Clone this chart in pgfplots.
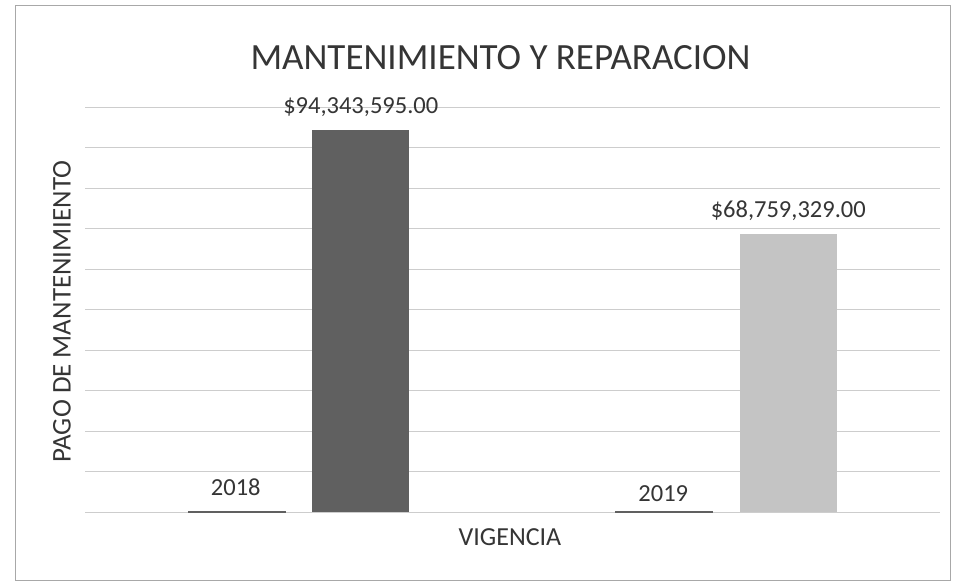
\documentclass[border=0pt]{standalone}
\usepackage{fontspec}
\setmainfont{Carlito}
\usepackage{pgfplots}
\pgfplotsset{compat=1.18}
\definecolor{bardark}{HTML}{606060}
\definecolor{barlight}{HTML}{C4C4C4}
\definecolor{gridc}{HTML}{CDCDCD}
\definecolor{framec}{HTML}{A8A8A8}
\definecolor{txt}{HTML}{353535}
\begin{document}
\begin{tikzpicture}
\path[use as bounding box] (0pt,0pt) rectangle (957pt,585pt);
\fill[white] (0pt,0pt) rectangle (957pt,585pt);
\draw[framec, line width=0.9pt] (15pt,5pt) rectangle (950pt,580pt);
\begin{axis}[
  at={(85pt,73pt)}, anchor=south west,
  scale only axis, width=855pt, height=405pt,
  xmin=0.5, xmax=2.5, ymin=0, ymax=100000000,
  ytick={0,10000000,20000000,30000000,40000000,50000000,60000000,70000000,80000000,90000000,100000000},
  scaled y ticks=false,
  xtick=\empty, yticklabels={},
  ymajorgrids, grid style={gridc, line width=0.9pt},
  axis line style={draw=none}, tick style={draw=none},
  clip=false,
  title={MANTENIMIENTO Y REPARACION},
  title style={at={(axis description cs:0.486,1)}, anchor=base, yshift=31pt,
    font=\fontsize{37}{41}\selectfont, text=txt},
  xlabel={VIGENCIA},
  xlabel style={at={(axis description cs:0.497,0)}, anchor=center, yshift=-25pt,
    font=\fontsize{26}{30}\selectfont, text=txt},
  ylabel={PAGO DE MANTENIMIENTO},
  ylabel style={at={(axis description cs:0,0.495)}, anchor=center, yshift=23pt,
    font=\fontsize{27}{31}\selectfont, text=txt},
  nodes near coords style={anchor=base, yshift=16pt, inner sep=0pt,
    font=\fontsize{24.5}{28}\selectfont, text=txt},
]
% Serie VIGENCIA (año)
\addplot[ybar, bar width=97pt, bar shift=-62pt, fill=bardark, draw=bardark, line width=1.2pt,
  nodes near coords={2018}, every node near coord/.append style={xshift=-63pt}]
  coordinates {(1,2018)};
\addplot[ybar, bar width=97pt, bar shift=-62pt, fill=bardark, draw=bardark, line width=1.2pt,
  nodes near coords={2019}, every node near coord/.append style={xshift=-63pt, yshift=-6pt}]
  coordinates {(2,2019)};
% Serie PAGO DE MANTENIMIENTO
\addplot[ybar, bar width=97pt, bar shift=62pt, fill=bardark, draw=none,
  nodes near coords={\$94,343,595.00}, every node near coord/.append style={xshift=62pt}]
  coordinates {(1,94343595)};
\addplot[ybar, bar width=97pt, bar shift=62pt, fill=barlight, draw=none,
  nodes near coords={\$68,759,329.00}, every node near coord/.append style={xshift=62pt}]
  coordinates {(2,68759329)};
\end{axis}
\end{tikzpicture}
\end{document}
